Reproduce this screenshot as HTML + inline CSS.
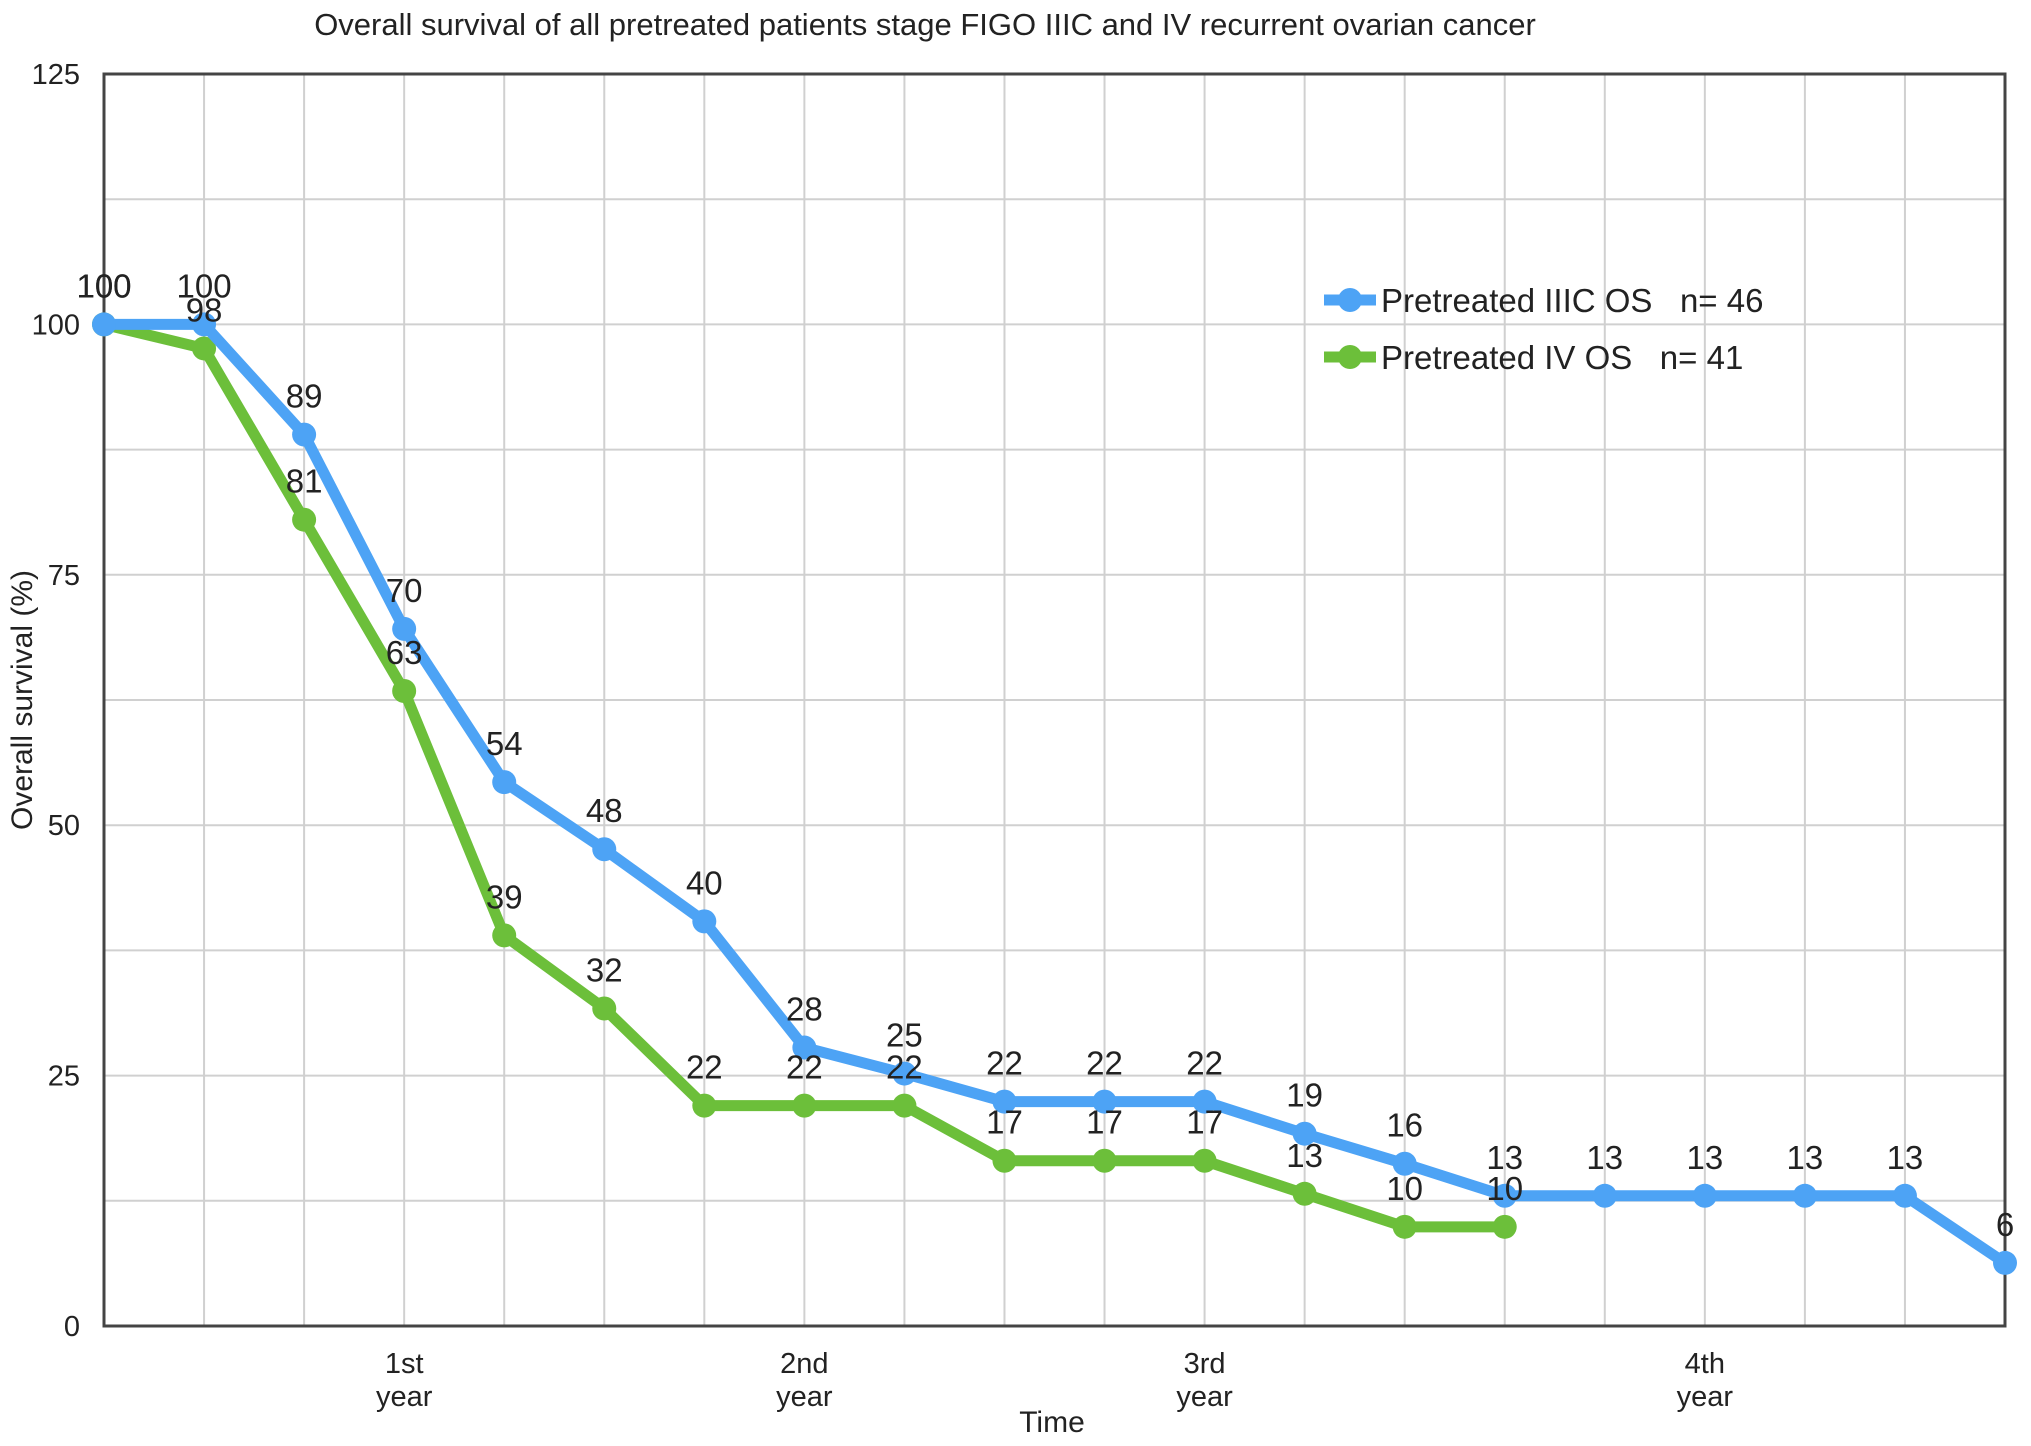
<!DOCTYPE html>
<html><head><meta charset="utf-8"><style>
html,body{margin:0;padding:0;background:#fff;}
svg{display:block;font-family:"Liberation Sans",Arial,sans-serif;}
</style></head><body>
<svg id="chart" width="2031" height="1446" viewBox="0 0 2031 1446">
<text x="925" y="35" font-size="31" text-anchor="middle" fill="#222">Overall survival of all pretreated patients stage FIGO IIIC and IV recurrent ovarian cancer</text>
<g id="grid"></g>
<g id="axes"></g>
<g id="series"></g>
<text x="32" y="700" font-size="30" text-anchor="middle" fill="#222" transform="rotate(-90 32 700)">Overall survival (%)</text>
<text x="1052" y="1432" font-size="30" text-anchor="middle" fill="#222">Time</text>
<g>
<g>
<line x1="1324" y1="300" x2="1376" y2="300" stroke="#4da3f5" stroke-width="11"/>
<circle cx="1350" cy="300" r="12" fill="#4da3f5"/>
<text x="1381" y="312" font-size="33" fill="#222">Pretreated IIIC OS&#160;&#160; n= 46</text>
</g>
<g>
<line x1="1324" y1="357" x2="1376" y2="357" stroke="#6cbf3a" stroke-width="11"/>
<circle cx="1350" cy="357" r="12" fill="#6cbf3a"/>
<text x="1381" y="369" font-size="33" fill="#222">Pretreated IV OS&#160;&#160; n= 41</text>
</g>
</g>
</svg>
<script>
const yTicks = [0, 25, 50, 75, 100, 125];
const yearLabels = ["1st", "2nd", "3rd", "4th"];
const yearIndex = [3, 7, 11, 16];
const seriesIIIC = [100, 100, 89, 69.6, 54.3, 47.6, 40.4, 27.8, 25.2, 22.4, 22.4, 22.4, 19.2, 16.2, 13, 13, 13, 13, 13, 6.3];
const labelsIIIC = ["100","100","89","70","54","48","40","28","25","22","22","22","19","16","13","13","13","13","13","6"];
const seriesIV = [100, 97.6, 80.5, 63.4, 39, 31.7, 22, 22, 22, 16.5, 16.5, 16.5, 13.2, 9.9, 9.9];
const labelsIV = ["100","98","81","63","39","32","22","22","22","17","17","17","13","10","10"];

const NS = "http://www.w3.org/2000/svg";
const L = 104, R = 2005, T = 74, B = 1326, N = 20;
const xs = i => L + i * (R - L) / (N - 1);
const ys = v => B - (v / 125) * (B - T);
function mk(tag, attrs, parent){const e=document.createElementNS(NS,tag);for(const k in attrs)e.setAttribute(k,attrs[k]);parent.appendChild(e);return e;}
const grid=document.getElementById('grid'), axes=document.getElementById('axes'), ser=document.getElementById('series');
for(let v=12.5; v<125; v+=12.5){
  const g=mk('line',{x1:L,x2:R,y1:ys(v),y2:ys(v),stroke:'#d0d0d0','stroke-width':2},grid);
  
  
}
for(let i=1;i<N-1;i++){
  const g=mk('line',{x1:xs(i),x2:xs(i),y1:T,y2:B,stroke:'#d0d0d0','stroke-width':2},grid);
  
  
}
const frame=mk('rect',{x:L,y:T,width:R-L,height:B-T,fill:'none',stroke:'#444','stroke-width':3},axes);


yTicks.forEach(v=>{
  const t=mk('text',{x:80,y:ys(v)+10,'font-size':29,'text-anchor':'end',fill:'#222'},axes);
  t.textContent=v;
  
  
});
yearLabels.forEach((lab,k)=>{
  const x=xs(yearIndex[k]);
  const t=mk('text',{x:x,y:1373,'font-size':29,'text-anchor':'middle',fill:'#222'},axes);
  t.textContent=lab;
  
  
  const t2=mk('text',{x:x,y:1406,'font-size':29,'text-anchor':'middle',fill:'#222'},axes);
  t2.textContent='year';
  
  
});
function drawSeries(vals, labels, color, name){
  const g=mk('g',{},ser);
  
  
  const pts=vals.map((v,i)=>xs(i)+','+ys(v)).join(' ');
  const pl=mk('polyline',{points:pts,fill:'none',stroke:color,'stroke-width':11,'stroke-linejoin':'round'},g);
  
  
  vals.forEach((v,i)=>{
    const c=mk('circle',{cx:xs(i),cy:ys(v),r:12,fill:color},g);
    
    
  });
  return g;
}
function drawLabels(vals, labels, name){
  vals.forEach((v,i)=>{
    const t=mk('text',{x:xs(i),y:ys(v)-27,'font-size':33,'text-anchor':'middle',fill:'#222'},ser);
    t.textContent=labels[i];
    
    
  });
}
drawSeries(seriesIV, labelsIV, '#6cbf3a', 'series-iv');
drawSeries(seriesIIIC, labelsIIIC, '#4da3f5', 'series-iiic');
drawLabels(seriesIV, labelsIV, 'series-iv');
drawLabels(seriesIIIC, labelsIIIC, 'series-iiic');
</script>
</body></html>
